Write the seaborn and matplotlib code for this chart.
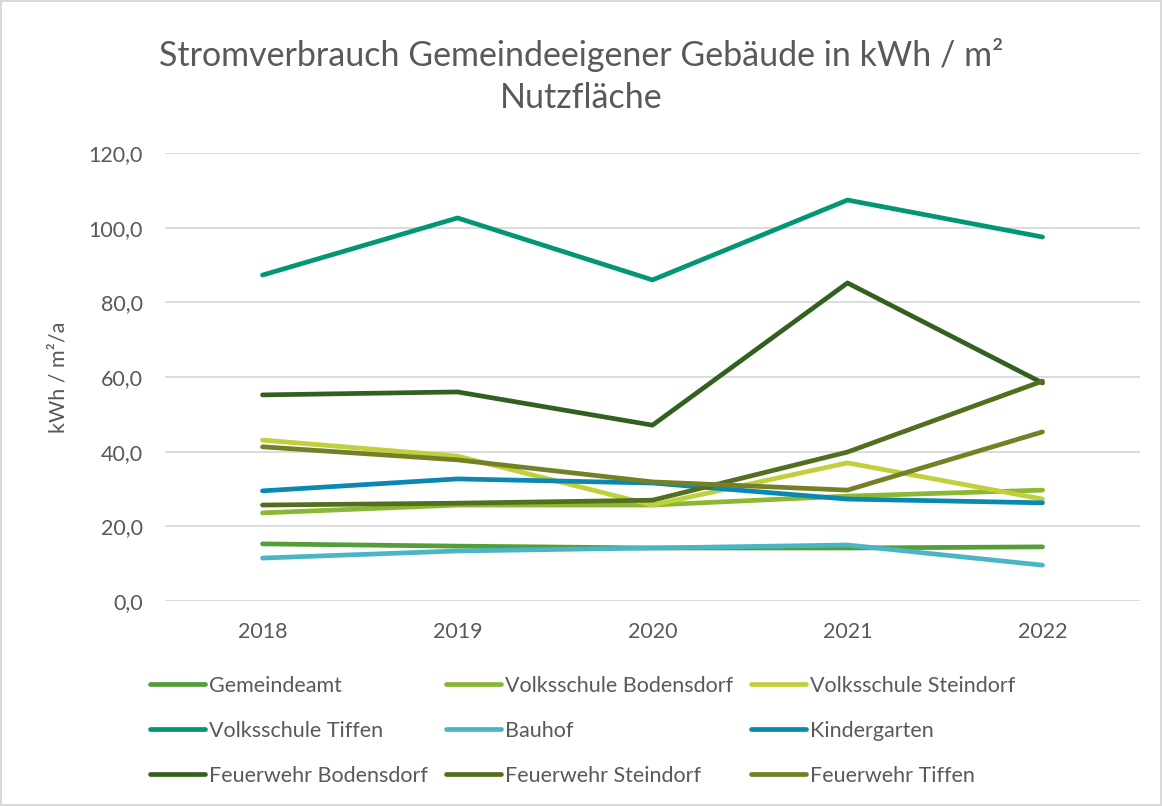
import matplotlib
matplotlib.use("Agg")
import matplotlib.pyplot as plt
import seaborn as sns
import pandas as pd
from matplotlib.ticker import FuncFormatter

# Daten (kWh / m²/a)
jahre = [2018, 2019, 2020, 2021, 2022]
gemeindeamt = [15.3, 14.7, 14.2, 14.2, 14.5]
vs_bodensdorf = [23.6, 25.7, 25.7, 28.1, 29.7]
vs_steindorf = [43.1, 38.8, 25.7, 37.0, 27.3]
vs_tiffen = [87.3, 102.6, 86.0, 107.4, 97.5]
bauhof = [11.5, 13.4, 14.2, 15.0, 9.6]
kindergarten = [29.5, 32.7, 31.6, 27.3, 26.3]
ff_bodensdorf = [55.2, 56.0, 47.1, 85.2, 58.4]
ff_steindorf = [25.7, 26.2, 27.0, 39.9, 58.9]
ff_tiffen = [41.3, 37.8, 31.9, 29.7, 45.3]

gebaeude = ["Gemeindeamt", "Volksschule Bodensdorf", "Volksschule Steindorf",
            "Volksschule Tiffen", "Bauhof", "Kindergarten",
            "Feuerwehr Bodensdorf", "Feuerwehr Steindorf", "Feuerwehr Tiffen"]
werte = [gemeindeamt, vs_bodensdorf, vs_steindorf, vs_tiffen, bauhof,
         kindergarten, ff_bodensdorf, ff_steindorf, ff_tiffen]
farben = ["#549E39", "#8AB833", "#C0CF3A", "#029676", "#4AB5C4", "#0989B1",
          "#32601F", "#526E1F", "#748026"]

rows = []
for name, vals in zip(gebaeude, werte):
    for j, v in zip(jahre, vals):
        rows.append({"Jahr": j, "Wert": v, "Gebäude": name})
df = pd.DataFrame(rows)

sns.set_theme(style="white")
plt.rcParams["font.family"] = ["Lato", "DejaVu Sans"]
grau = "#595959"

fig = plt.figure(figsize=(11.62, 8.06), dpi=100)
fig.patch.set_edgecolor("#D9D9D9")
fig.patch.set_linewidth(1.5)
ax = fig.add_axes([165 / 1162, 1 - 601 / 806, (1140 - 165) / 1162, (601 - 153) / 806])

sns.lineplot(data=df, x="Jahr", y="Wert", hue="Gebäude", hue_order=gebaeude,
             palette=farben, linewidth=3.4, ax=ax, legend=False,
             solid_capstyle="round")

ax.set_xlim(2017.5, 2022.5)
ax.set_ylim(0, 120)
ax.set_yticks([0, 20, 40, 60, 80, 100, 120])
ax.set_xticks(jahre)
ax.yaxis.set_major_formatter(FuncFormatter(lambda v, p: f"{v:.1f}".replace(".", ",")))
ax.grid(axis="y", color="#D9D9D9", linewidth=1.3)
ax.set_axisbelow(True)
for s in ax.spines.values():
    s.set_visible(False)
ax.tick_params(axis="both", colors=grau, labelsize=15.5, length=0)
ax.tick_params(axis="y", pad=16)
ax.tick_params(axis="x", pad=15)
ax.set_xlabel("")
ax.set_ylabel("kWh / m²/a", color=grau, fontsize=15.5, labelpad=14)

fig.text(0.5, 1 - 76 / 806, "Stromverbrauch Gemeindeeigener Gebäude in kWh / m²\nNutzfläche",
         ha="center", va="center", fontsize=24.5, color=grau, linespacing=1.4)

# Legende zeilenweise wie im Original
order = [0, 3, 6, 1, 4, 7, 2, 5, 8]
handles = [plt.Line2D([], [], color=farben[i], linewidth=3.4, solid_capstyle="round") for i in order]
labels = [gebaeude[i] for i in order]
leg = fig.legend(handles, labels, ncol=3, loc="upper left",
                 bbox_to_anchor=(150 / 1162, 1 - 676 / 806), frameon=False,
                 borderaxespad=0, borderpad=0,
                 fontsize=15.5, handlelength=2.55, handletextpad=0.2,
                 columnspacing=0.82, labelspacing=1.15, labelcolor=grau)

fig.savefig("out.png", dpi=100, edgecolor=fig.get_edgecolor())
